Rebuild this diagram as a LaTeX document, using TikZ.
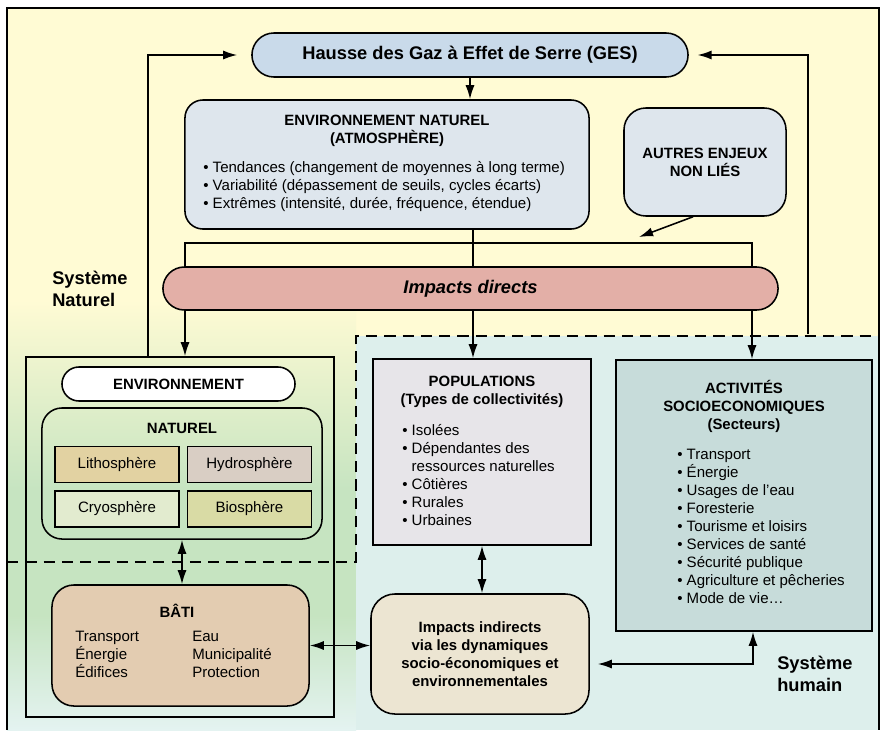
\documentclass[tikz,border=0pt]{standalone}
\usepackage{fontspec}
\setmainfont{Liberation Sans}
\usetikzlibrary{arrows.meta,positioning,shapes.misc}

\definecolor{bgyellow}{HTML}{FFFBD4}
\definecolor{bggreen}{HTML}{C6E4C1}
\definecolor{bgpale}{HTML}{E4F3F1}
\definecolor{bgcyan}{HTML}{DDEFEC}
\definecolor{gesblue}{HTML}{C9DAEA}
\definecolor{boxblue}{HTML}{DEE6ED}
\definecolor{impred}{HTML}{E3AFA7}
\definecolor{litho}{HTML}{E2D2A2}
\definecolor{hydro}{HTML}{D9CEC4}
\definecolor{cryo}{HTML}{E2EBCF}
\definecolor{bio}{HTML}{D9DBA5}
\definecolor{batibrown}{HTML}{E3CCB1}
\definecolor{indbeige}{HTML}{ECE5D2}
\definecolor{popgray}{HTML}{E7E5E9}
\definecolor{actteal}{HTML}{C7DCDA}

\begin{document}
\begin{tikzpicture}[
    x=0.025cm, y=-0.025cm,
    txt/.style={font=\fontsize{10.7}{12.8}\selectfont},
    bold/.style={font=\bfseries\fontsize{10.6}{12.8}\selectfont},
    big/.style={font=\bfseries\fontsize{13}{15.6}\selectfont},
    box/.style={draw,line width=1.1pt,inner sep=0pt},
    pill/.style={rounded rectangle,draw,line width=1.1pt,inner sep=0pt},
    cell/.style={rectangle,draw,line width=1pt,minimum width=3.1cm,minimum height=0.9cm,txt},
    title/.style={bold,align=center,inner sep=0pt},
    list/.style={txt,align=left,inner sep=0pt,anchor=west},
    link/.style={line width=1.1pt},
    arrow/.style={-{Latex[length=10pt,width=6.5pt]},line width=1.1pt},
    dblarrow/.style={{Latex[length=10pt,width=6.5pt]}-{Latex[length=10pt,width=6.5pt]},line width=1.1pt},
    limit/.style={dash pattern=on 8pt off 5pt,line width=1.2pt}
]
\useasboundingbox (0,0) rectangle (880,730);

% background of the two systems
\fill[bgyellow] (7,8) rectangle (879,730);
\shade[top color=bgyellow,bottom color=bggreen] (7,300) rectangle (356,491);
\fill[bggreen] (7,490) rectangle (356,616);
\shade[top color=bggreen,bottom color=bgpale] (7,615) rectangle (356,730);
\fill[bgcyan] (356,336) rectangle (879,730);
\draw[line width=1.4pt] (7,730) -- (7,8) -- (879,8) -- (879,730);
\draw[limit] (7,562) -- (356,562) -- (356,336) -- (879,336);

% top row
\node[pill,fill=gesblue,minimum width=10.9cm,minimum height=1.1cm,big] (ges) at (470,55) {Hausse des Gaz à Effet de Serre (GES)};
\node[box,rounded corners=0.45cm,fill=boxblue,minimum width=10.1cm,minimum height=3.225cm] (envnat) at (387,164.5) {};
\node[title] (envnattitle) at (387,131) {ENVIRONNEMENT NATUREL\\(ATMOSPHÈRE)};
\node[list] (envnatlist) at (203,187) {• Tendances (changement de moyennes à long terme)\\• Variabilité (dépassement de seuils, cycles écarts)\\• Extrêmes (intensité, durée, fréquence, étendue)};
\node[box,rounded corners=0.55cm,fill=boxblue,minimum width=4.05cm,minimum height=2.7cm,bold,align=center] (autres) at (705,162) {AUTRES ENJEUX\\NON LIÉS};
\node[pill,fill=impred,minimum width=15.375cm,minimum height=1.075cm,font=\bfseries\itshape\fontsize{13}{15.6}\selectfont] (impdir) at (470.5,288.5) {Impacts directs};

% natural system
\node[big,align=left,anchor=west,inner sep=0pt] (sysnat) at (52,289) {Système\\Naturel};
\node[box,minimum width=7.7cm,minimum height=9cm] (envrect) at (180,537) {};
\node[pill,fill=white,minimum width=5.825cm,minimum height=0.85cm,bold] (environ) at (178.5,384) {ENVIRONNEMENT};
\node[box,rounded corners=0.5cm,minimum width=7cm,minimum height=3.275cm] (naturel) at (182,473.5) {};
\node[title] (natureltitle) at (182,428) {NATUREL};
\node[cell,fill=litho] (litho) at (117,464.5) {Lithosphère};
\node[cell,fill=hydro,right=0.175cm of litho] (hydro) {Hydrosphère};
\node[cell,fill=cryo,below=0.175cm of litho] (cryo) {Cryosphère};
\node[cell,fill=bio,below=0.175cm of hydro] (bio) {Biosphère};
\node[box,rounded corners=0.55cm,fill=batibrown,minimum width=6.425cm,minimum height=3.025cm] (bati) at (180.5,645.5) {};
\node[title] (batititle) at (177,611) {BÂTI};
\node[list] (batileft) at (75,654) {Transport\\Énergie\\Édifices};
\node[list] (batiright) at (192,654) {Eau\\Municipalité\\Protection};

% human system
\node[box,fill=popgray,minimum width=5.45cm,minimum height=4.65cm] (pop) at (482,452) {};
\node[title] (poptitle) at (482,392) {POPULATIONS\\(Types de collectivités)};
\node[list] (poplist) at (402,475) {• Isolées\\• Dépendantes des\\\phantom{• }ressources naturelles\\• Côtières\\• Rurales\\• Urbaines};
\node[box,fill=actteal,minimum width=6.4cm,minimum height=6.775cm] (act) at (744,495.5) {};
\node[title] (acttitle) at (744,406) {ACTIVITÉS\\SOCIOECONOMIQUES\\(Secteurs)};
\node[list] (actlist) at (677,526) {• Transport\\• Énergie\\• Usages de l’eau\\• Foresterie\\• Tourisme et loisirs\\• Services de santé\\• Sécurité publique\\• Agriculture et pêcheries\\• Mode de vie…};
\node[box,rounded corners=0.6cm,fill=indbeige,minimum width=5.45cm,minimum height=3cm,bold,align=center] (impind) at (480,654) {Impacts indirects\\via les dynamiques\\socio-économiques et\\environnementales};
\node[big,align=left,anchor=west,inner sep=0pt] (syshum) at (777,674) {Système\\humain};

% connectors
\coordinate (colL) at (185,243);
\coordinate (colM) at (473,243);
\coordinate (colR) at (752,243);
\coordinate (fbL) at (148,58);
\coordinate (fbR) at (808,334);
\coordinate (enjeux) at (639,237);
\coordinate (actlink) at (753,664);
\draw[arrow] (ges.south) -- (ges.south |- envnat.north);
\draw[link] (envnat.south -| colM) -- (impdir.north -| colM);
\draw[link] (impdir.north -| colL) -- (colL) -- (colR) -- (impdir.north -| colR);
\draw[arrow] ([xshift=-0.3cm]autres.south) -- (enjeux);
\draw[arrow] (impdir.south -| colL) -- (envrect.north -| colL);
\draw[arrow] (impdir.south -| colM) -- (pop.north -| colM);
\draw[arrow] (impdir.south -| colR) -- (act.north -| colR);
\draw[arrow,shorten >=0.35cm] (envrect.north -| fbL) |- (ges.west);
\draw[arrow,shorten >=0.22cm] (fbR) |- (ges.east);
\draw[dblarrow] (naturel.south) -- (naturel.south |- bati.north);
\draw[dblarrow] (bati.east) -- (bati.east -| impind.west);
\draw[dblarrow] (pop.south) -- (pop.south |- impind.north);
\draw[dblarrow,shorten <=0.2cm] (impind.east |- actlink) -- (actlink) -- (act.south -| actlink);
\end{tikzpicture}
\end{document}
